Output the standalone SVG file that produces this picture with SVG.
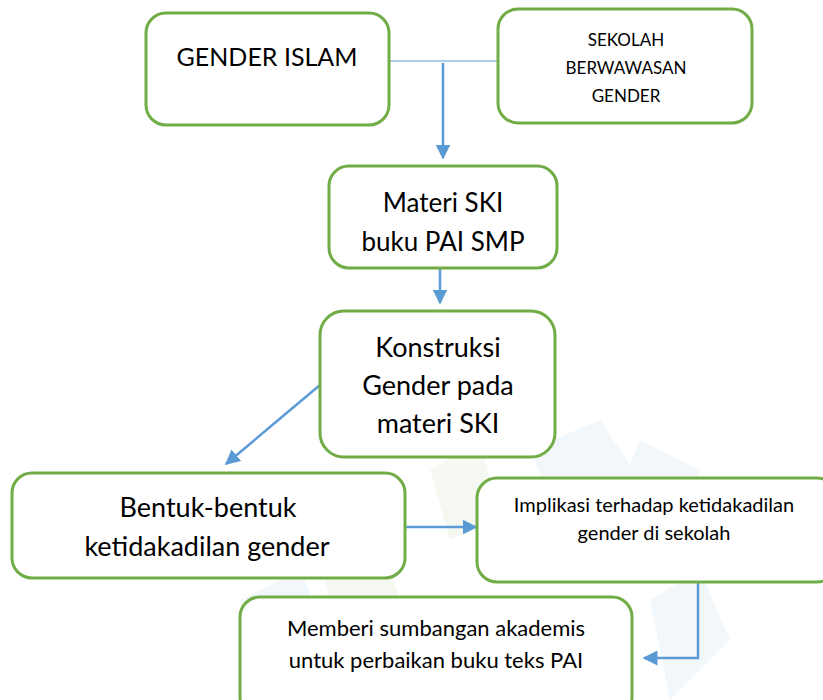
<svg xmlns="http://www.w3.org/2000/svg" width="823" height="700" viewBox="0 0 823 700">
<style>
.box{fill:#fff;stroke:#70AD47;stroke-width:3}
.t{font-family:Lato,"Open Sans","Liberation Sans",sans-serif;fill:#000;text-anchor:middle}
.c{stroke:#5B9BD5;stroke-width:2.5;fill:none}
.wm{opacity:0.07}
</style>
<defs>
<marker id="ah" viewBox="0 0 10 10" refX="9" refY="5" markerWidth="6" markerHeight="6" markerUnits="strokeWidth" orient="auto">
<path d="M0,0 L10,5 L0,10 z" fill="#5B9BD5"/>
</marker>
</defs>
<rect width="823" height="700" fill="#fff"/>
<g id="watermark" class="wm">
<polygon points="530,450 600,420 640,480 560,520" fill="#5B9BD5"/>
<polygon points="430,470 480,440 500,520 450,540" fill="#70AD47"/>
<polygon points="640,440 700,470 680,520 620,490" fill="#5B9BD5"/>
<polygon points="240,600 300,570 330,640 260,680" fill="#5B9BD5"/>
<polygon points="650,600 700,570 730,640 670,700" fill="#5B9BD5"/>
<polygon points="320,560 380,540 400,600 330,600" fill="#70AD47"/>
</g>
<g id="connectors">
<line x1="389" y1="61" x2="506" y2="61" stroke="#5B9BD5" stroke-width="1.2"/>
<line class="c" x1="443" y1="63" x2="443" y2="158" marker-end="url(#ah)"/>
<line class="c" x1="440" y1="269" x2="440" y2="303" marker-end="url(#ah)"/>
<line class="c" x1="320" y1="385" x2="226" y2="464" marker-end="url(#ah)"/>
<line class="c" x1="405" y1="527" x2="476" y2="527" marker-end="url(#ah)"/>
<polyline class="c" points="698,582 698,658 644,658" marker-end="url(#ah)"/>
</g>
<g id="n1"><rect class="box" x="146" y="13" width="243" height="112" rx="20"/>
<text class="t" x="267" y="66" font-size="25">GENDER ISLAM</text></g>
<g id="n2"><rect class="box" x="498" y="9" width="254" height="114" rx="20"/>
<text class="t" x="626" y="46" font-size="17">SEKOLAH</text>
<text class="t" x="626" y="74" font-size="17">BERWAWASAN</text>
<text class="t" x="626" y="102" font-size="17">GENDER</text></g>
<g id="n3"><rect class="box" x="329" y="166" width="228" height="102" rx="20"/>
<text class="t" x="443" y="212" font-size="26">Materi SKI</text>
<text class="t" x="443" y="251" font-size="26">buku PAI SMP</text></g>
<g id="n4"><rect class="box" x="320" y="311" width="235" height="146" rx="24"/>
<text class="t" x="438" y="357" font-size="27">Konstruksi</text>
<text class="t" x="438" y="395" font-size="27">Gender pada</text>
<text class="t" x="438" y="433" font-size="27">materi SKI</text></g>
<g id="n5"><rect class="box" x="12" y="473" width="393" height="105" rx="20"/>
<text class="t" x="208" y="517" font-size="27">Bentuk-bentuk</text>
<text class="t" x="207" y="556" font-size="27">ketidakadilan gender</text></g>
<g id="n6"><rect class="box" x="477" y="478" width="360" height="104" rx="20"/>
<text class="t" x="654" y="512" font-size="20">Implikasi terhadap ketidakadilan</text>
<text class="t" x="654" y="540" font-size="20">gender di sekolah</text></g>
<g id="n7"><rect class="box" x="240" y="597" width="392" height="120" rx="20"/>
<text class="t" x="436" y="636" font-size="22">Memberi sumbangan akademis</text>
<text class="t" x="436" y="668" font-size="22">untuk perbaikan buku teks PAI</text></g>
</svg>
